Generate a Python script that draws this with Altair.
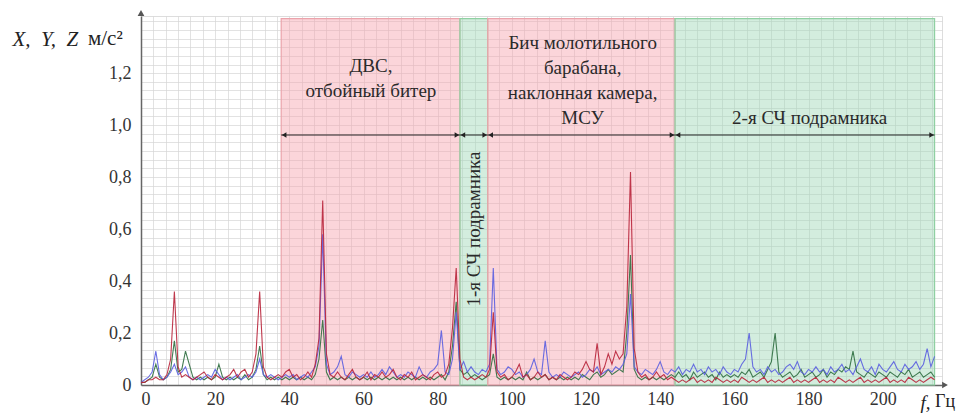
import altair as alt
import pandas as pd

# ---------------- data ----------------
freq = list(range(0, 215))

x_vals = [
    0.01, 0.01, 0.02, 0.02, 0.03, 0.02, 0.02, 0.04, 0.10, 0.36,
    0.07, 0.03, 0.04, 0.03, 0.02, 0.03, 0.04, 0.05, 0.03, 0.02,
    0.04, 0.03, 0.02, 0.03, 0.04, 0.06, 0.03, 0.05, 0.06, 0.03,
    0.05, 0.12, 0.36, 0.07, 0.03, 0.02, 0.03, 0.04, 0.03, 0.05,
    0.06, 0.03, 0.04, 0.02, 0.03, 0.05, 0.03, 0.08, 0.18, 0.71,
    0.12, 0.04, 0.03, 0.05, 0.03, 0.02, 0.04, 0.06, 0.03, 0.02,
    0.03, 0.05, 0.02, 0.04, 0.03, 0.05, 0.03, 0.04, 0.06, 0.03,
    0.02, 0.04, 0.03, 0.05, 0.02, 0.03, 0.04, 0.03, 0.02, 0.04,
    0.05, 0.03, 0.04, 0.08, 0.22, 0.45, 0.10, 0.03, 0.02, 0.03,
    0.02, 0.03, 0.04, 0.03, 0.06, 0.28, 0.05, 0.03, 0.04, 0.02,
    0.03, 0.05, 0.08, 0.03, 0.04, 0.02, 0.03, 0.05, 0.03, 0.04,
    0.02, 0.03, 0.02, 0.04, 0.03, 0.02, 0.03, 0.05, 0.04, 0.06,
    0.09, 0.06, 0.05, 0.16, 0.04, 0.07, 0.12, 0.08, 0.13, 0.10,
    0.12, 0.30, 0.82, 0.14, 0.05, 0.03, 0.04, 0.02, 0.03, 0.05,
    0.03, 0.04, 0.02, 0.03, 0.02, 0.01, 0.02, 0.01, 0.02, 0.03,
    0.01, 0.02, 0.01, 0.02, 0.01, 0.03, 0.02, 0.01, 0.02, 0.01,
    0.02, 0.01, 0.03, 0.02, 0.01, 0.02, 0.01, 0.02, 0.03, 0.01,
    0.02, 0.01, 0.02, 0.01, 0.02, 0.03, 0.01, 0.02, 0.01, 0.02,
    0.01, 0.02, 0.03, 0.01, 0.02, 0.01, 0.02, 0.01, 0.03, 0.02,
    0.01, 0.02, 0.01, 0.02, 0.03, 0.01, 0.02, 0.01, 0.02, 0.01,
    0.02, 0.03, 0.01, 0.02, 0.01, 0.02, 0.01, 0.03, 0.02, 0.01,
    0.02, 0.01, 0.02, 0.03, 0.02,
]

y_vals = [
    0.01, 0.02, 0.03, 0.05, 0.13, 0.04, 0.02, 0.03, 0.05, 0.08,
    0.04, 0.05, 0.07, 0.03, 0.02, 0.03, 0.02, 0.03, 0.04, 0.03,
    0.06, 0.04, 0.02, 0.03, 0.02, 0.03, 0.04, 0.02, 0.03, 0.04,
    0.03, 0.05, 0.10, 0.04, 0.03, 0.04, 0.03, 0.02, 0.03, 0.04,
    0.03, 0.04, 0.02, 0.03, 0.04, 0.03, 0.05, 0.07, 0.15, 0.58,
    0.08, 0.04, 0.05, 0.07, 0.11, 0.04, 0.03, 0.05, 0.04, 0.03,
    0.04, 0.03, 0.05, 0.03, 0.04, 0.06, 0.04, 0.07, 0.05, 0.03,
    0.04, 0.03, 0.05, 0.04, 0.03, 0.07, 0.04, 0.03, 0.05, 0.06,
    0.08, 0.21, 0.05, 0.04, 0.10, 0.28, 0.06, 0.09, 0.05, 0.07,
    0.05, 0.04, 0.06, 0.05, 0.08, 0.45, 0.06, 0.04, 0.05, 0.07,
    0.06, 0.04, 0.05, 0.03, 0.04, 0.06, 0.10, 0.05, 0.04, 0.17,
    0.05, 0.03, 0.04, 0.03, 0.05, 0.04, 0.03, 0.04, 0.05, 0.03,
    0.04, 0.06, 0.05, 0.07, 0.04, 0.05, 0.06, 0.05, 0.07, 0.06,
    0.08, 0.12, 0.35, 0.07, 0.05, 0.04, 0.06, 0.05, 0.04, 0.06,
    0.09, 0.05, 0.04, 0.06, 0.05, 0.07, 0.04, 0.06, 0.05, 0.08,
    0.05, 0.06, 0.04, 0.07, 0.05, 0.06, 0.04, 0.07, 0.05, 0.04,
    0.06, 0.05, 0.08, 0.10, 0.20, 0.07, 0.05, 0.06, 0.04, 0.07,
    0.05, 0.06, 0.04, 0.05, 0.07, 0.08, 0.06, 0.09, 0.05, 0.04,
    0.06, 0.05, 0.07, 0.05, 0.06, 0.04, 0.07, 0.05, 0.06, 0.08,
    0.05, 0.06, 0.04, 0.07, 0.10, 0.06, 0.05, 0.07, 0.04, 0.08,
    0.06, 0.05, 0.07, 0.09, 0.06, 0.05, 0.08, 0.06, 0.07, 0.09,
    0.06, 0.08, 0.14, 0.07, 0.11,
]

z_vals = [
    0.01, 0.01, 0.02, 0.03, 0.08, 0.03, 0.02, 0.03, 0.06, 0.17,
    0.05, 0.06, 0.13, 0.08, 0.03, 0.02, 0.03, 0.02, 0.03, 0.02,
    0.03, 0.08, 0.03, 0.02, 0.03, 0.02, 0.03, 0.02, 0.04, 0.02,
    0.03, 0.06, 0.15, 0.04, 0.02, 0.03, 0.02, 0.03, 0.02, 0.03,
    0.02, 0.03, 0.02, 0.03, 0.02, 0.03, 0.02, 0.04, 0.10, 0.25,
    0.05, 0.02, 0.03, 0.02, 0.03, 0.02, 0.03, 0.02, 0.03, 0.02,
    0.03, 0.02, 0.03, 0.02, 0.03, 0.02, 0.03, 0.02, 0.03, 0.02,
    0.03, 0.02, 0.03, 0.02, 0.03, 0.02, 0.03, 0.02, 0.03, 0.02,
    0.03, 0.04, 0.02, 0.05, 0.15, 0.32, 0.06, 0.04, 0.05, 0.03,
    0.04, 0.03, 0.02, 0.03, 0.04, 0.12, 0.03, 0.02, 0.03, 0.02,
    0.03, 0.02, 0.03, 0.02, 0.05, 0.02, 0.03, 0.02, 0.03, 0.04,
    0.02, 0.03, 0.02, 0.03, 0.02, 0.03, 0.02, 0.03, 0.02, 0.04,
    0.03, 0.02, 0.04, 0.05, 0.03, 0.04, 0.06, 0.04, 0.05, 0.06,
    0.05, 0.20, 0.50, 0.06, 0.03, 0.02, 0.03, 0.02, 0.03, 0.02,
    0.03, 0.02, 0.03, 0.04, 0.03, 0.05, 0.03, 0.04, 0.02, 0.05,
    0.03, 0.04, 0.05, 0.03, 0.04, 0.02, 0.05, 0.03, 0.04, 0.03,
    0.04, 0.03, 0.05, 0.04, 0.06, 0.03, 0.04, 0.05, 0.03, 0.06,
    0.09, 0.20, 0.05, 0.03, 0.04, 0.05, 0.03, 0.04, 0.06, 0.03,
    0.04, 0.05, 0.03, 0.04, 0.06, 0.03, 0.05, 0.04, 0.06, 0.05,
    0.07, 0.06, 0.13, 0.05, 0.04, 0.03, 0.05, 0.04, 0.03, 0.05,
    0.04, 0.03, 0.05, 0.04, 0.03, 0.05, 0.04, 0.06, 0.03, 0.04,
    0.05, 0.03, 0.04, 0.05, 0.03,
]

zone_start = [37.8, 86.0, 93.5, 144.0]
zone_end = [86.0, 93.5, 144.0, 214.0]
zone_kind = ["red", "green", "red", "green"]

zone_labels = [
    "ДВС,\nотбойный битер",
    "Бич молотильного\nбарабана,\nнаклонная камера,\nМСУ",
    "2-я СЧ подрамника",
]
zone_label_x = [62.0, 119.1, 180.3]
zone_label_y = [1.262, 1.352, 1.062]

vertical_label = ["1-я СЧ подрамника"]
vertical_label_x = [89.8]
vertical_label_y = [0.60]

arrow_level = 0.962
zone_top = 1.41

# ---------------- tables ----------------
spec = pd.concat([
    pd.DataFrame({"freq": freq, "value": z_vals, "series": "Z"}),
    pd.DataFrame({"freq": freq, "value": y_vals, "series": "Y"}),
    pd.DataFrame({"freq": freq, "value": x_vals, "series": "X"}),
], ignore_index=True)

zones = pd.DataFrame({"start": zone_start, "end": zone_end, "kind": zone_kind,
                      "bottom": 0.0, "top": zone_top, "arrow": arrow_level})
labels = pd.DataFrame({"x": zone_label_x, "y": zone_label_y, "text": zone_labels})
vlabel = pd.DataFrame({"x": vertical_label_x, "y": vertical_label_y, "text": vertical_label})

FONT = "Liberation Serif, Times New Roman, DejaVu Serif, serif"
X_MAX = 216
Y_MAX = 1.42

xscale = alt.Scale(domain=[0, X_MAX], nice=False, zero=False)
yscale = alt.Scale(domain=[0, Y_MAX], nice=False, zero=False)

x_grid_values = [i * 20 / 6 for i in range(0, 65)]
y_grid_values = [i * 0.2 / 6 for i in range(0, 43)]

xaxis = alt.Axis(
    values=x_grid_values,
    labelExpr="(abs(datum.value % 20) < 0.01 || abs(datum.value % 20 - 20) < 0.01) ? format(round(datum.value), 'd') : ''",
    labelOverlap=False, ticks=False, grid=True, gridColor="#d6d6d6", gridWidth=0.7,
    domainColor="#666666", domainWidth=1.5, labelFont=FONT, labelFontSize=18,
    labelColor="#333333", labelPadding=5,
    title="f,", titleFont=FONT, titleFontSize=19, titleFontStyle="italic",
    titleFontWeight="normal", titleColor="#222222", titleAngle=0,
    titleAlign="left", titleBaseline="middle", titleX=779, titleY=17,
)
yaxis = alt.Axis(
    values=y_grid_values,
    labelExpr="(abs(datum.value * 5 - round(datum.value * 5)) < 0.01 && datum.value < 1.3) ? (round(datum.value * 5) == 0 ? '0' : replace(format(datum.value, '.1f'), '.', ',')) : ''",
    labelOverlap=False, ticks=False, grid=True, gridColor="#d6d6d6", gridWidth=0.7,
    domainColor="#666666", domainWidth=1.5, labelFont=FONT, labelFontSize=18,
    labelColor="#333333", labelPadding=10,
    title="X,\u00a0 Y,\u00a0 Z", titleFont=FONT, titleFontSize=21, titleFontStyle="italic",
    titleFontWeight="normal", titleColor="#222222", titleAngle=0,
    titleAlign="left", titleBaseline="middle", titleX=-129, titleY=23,
)

zone_layer = alt.Chart(zones).mark_rect(fillOpacity=0.45, strokeWidth=1.2).encode(
    x=alt.X("start:Q", scale=xscale, axis=xaxis),
    x2="end:Q",
    y=alt.Y("bottom:Q", scale=yscale, axis=yaxis),
    y2="top:Q",
    fill=alt.Fill("kind:N", scale=alt.Scale(domain=["red", "green"], range=["#f7a2ac", "#9ed8b5"]), legend=None),
    stroke=alt.Stroke("kind:N", scale=alt.Scale(domain=["red", "green"], range=["#eba3ab", "#8fd0a2"]), legend=None),
)

line_layer = alt.Chart(spec).mark_line(strokeWidth=1.1, opacity=0.9).encode(
    x=alt.X("freq:Q", scale=xscale, axis=xaxis),
    y=alt.Y("value:Q", scale=yscale, axis=yaxis),
    color=alt.Color("series:N", scale=alt.Scale(domain=["Z", "Y", "X"], range=["#2f6e40", "#5a5ee0", "#b8243a"]), legend=None),
    detail="series:N",
)

arrow_rule = alt.Chart(zones).mark_rule(color="#222222", strokeWidth=1).encode(
    x=alt.X("start:Q", scale=xscale, axis=xaxis),
    x2="end:Q",
    y=alt.Y("arrow:Q", scale=yscale, axis=yaxis),
)
arrow_left = alt.Chart(zones).mark_point(shape="triangle-left", filled=True, size=28, color="#222222", opacity=1, xOffset=3).encode(
    x=alt.X("start:Q", scale=xscale, axis=xaxis),
    y=alt.Y("arrow:Q", scale=yscale, axis=yaxis),
)
arrow_right = alt.Chart(zones).mark_point(shape="triangle-right", filled=True, size=28, color="#222222", opacity=1, xOffset=-3).encode(
    x=alt.X("end:Q", scale=xscale, axis=xaxis),
    y=alt.Y("arrow:Q", scale=yscale, axis=yaxis),
)

label_layer = alt.Chart(labels).mark_text(
    font=FONT, fontSize=19, color="#2a2a2a", align="center", baseline="top", lineBreak="\n", lineHeight=25,
).encode(
    x=alt.X("x:Q", scale=xscale, axis=xaxis),
    y=alt.Y("y:Q", scale=yscale, axis=yaxis),
    text="text:N",
)

vlabel_layer = alt.Chart(vlabel).mark_text(
    font=FONT, fontSize=19, color="#2a2a2a", align="center", baseline="middle", angle=270,
).encode(
    x=alt.X("x:Q", scale=xscale, axis=xaxis),
    y=alt.Y("y:Q", scale=yscale, axis=yaxis),
    text="text:N",
)

unit_y = alt.Chart(pd.DataFrame({"t": ["м/с²"]})).mark_text(
    font=FONT, fontSize=21, color="#222222", align="left", baseline="middle",
).encode(x=alt.value(-53), y=alt.value(23), text="t:N")

unit_x = alt.Chart(pd.DataFrame({"t": ["Гц"]})).mark_text(
    font=FONT, fontSize=18, color="#222222", align="left", baseline="middle",
).encode(x=alt.value(794), y=alt.value(386), text="t:N")

y_arrow = alt.Chart(pd.DataFrame({"a": [1]})).mark_point(
    shape="triangle-up", filled=True, size=45, color="#555555", opacity=1,
).encode(x=alt.value(0), y=alt.value(-3))

x_arrow = alt.Chart(pd.DataFrame({"a": [1]})).mark_point(
    shape="triangle-right", filled=True, size=45, color="#555555", opacity=1,
).encode(x=alt.value(804), y=alt.value(369))

chart = alt.layer(
    zone_layer, line_layer, arrow_rule, arrow_left, arrow_right,
    label_layer, vlabel_layer, unit_y, unit_x, y_arrow, x_arrow,
).properties(
    width=801,
    height=369,
    autosize=alt.AutoSizeParams(type="none"),
    padding={"left": 133, "top": 8, "right": 16, "bottom": 30},
).configure_view(stroke=None).configure(background="white")

chart.save("out.html", embed_options={"renderer": "svg", "actions": False})
